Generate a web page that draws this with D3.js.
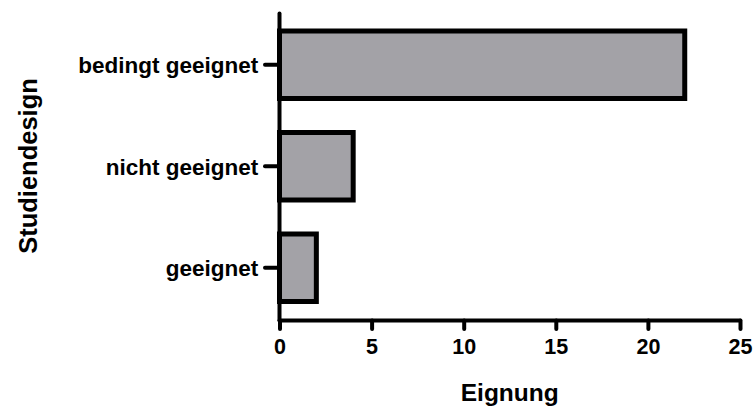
<!DOCTYPE html>
<html>
<head>
<meta charset="utf-8">
<script src="https://cdn.jsdelivr.net/npm/d3@7"></script>
<style>
  html, body { margin: 0; padding: 0; background: #fff; }
  svg { display: block; font-family: "Liberation Sans", Arial, Helvetica, sans-serif; font-weight: bold; }
</style>
</head>
<body>
<svg id="chart" width="755" height="408"></svg>
<script>
// Study designs and how many studies fall into each suitability class
const categories = ["bedingt geeignet", "nicht geeignet", "geeignet"];
const counts = [22, 4, 2];
const xTicks = [0, 5, 10, 15, 20, 25];
const xTitle = "Eignung";
const yTitle = "Studiendesign";

const FONT = "'Liberation Sans', Arial, Helvetica, sans-serif";
const svg = d3.select("#chart");

const x = d3.scaleLinear().domain([0, 25]).range([279.5, 740]);
const y = d3.scaleBand()
  .domain(categories)
  .range([14, 318.5])
  .paddingInner(0.335)
  .paddingOuter(0.1675);

const axisY = 320.5;   // position of the value axis line
const axisX = x(0);    // position of the category axis line

// Bars
svg.append("g")
  .selectAll("rect")
  .data(categories.map((c, i) => ({ c, v: counts[i] })))
  .join("rect")
  .attr("x", x(0))
  .attr("y", d => y(d.c))
  .attr("width", d => x(d.v) - x(0))
  .attr("height", y.bandwidth())
  .attr("fill", "#a3a2a7")
  .attr("stroke", "#000")
  .attr("stroke-width", 5);

// Value axis (bottom)
const xAxis = d3.axisBottom(x).tickValues(xTicks).tickSize(8.5).tickPadding(10).tickFormat(d3.format("d"));
const gx = svg.append("g").attr("transform", `translate(0,${axisY})`).call(xAxis);
gx.select(".domain").remove();
gx.append("line")
  .attr("x1", x(0)).attr("x2", x(25))
  .attr("stroke", "#000").attr("stroke-width", 4).attr("stroke-linecap", "round");
gx.selectAll(".tick line").attr("stroke", "#000").attr("stroke-width", 4).attr("stroke-linecap", "round");
gx.selectAll(".tick text")
  .attr("fill", "#000")
  .style("font-size", "21.5px")
  .style("font-weight", "bold")
  .style("font-family", FONT);

// Category axis (left)
const yAxis = d3.axisLeft(y).tickSize(14.5).tickPadding(6.7);
const gy = svg.append("g").attr("transform", `translate(${axisX},0)`).call(yAxis);
gy.select(".domain").remove();
gy.append("line")
  .attr("y1", 13.5).attr("y2", axisY)
  .attr("stroke", "#000").attr("stroke-width", 4).attr("stroke-linecap", "round");
gy.selectAll(".tick line").attr("stroke", "#000").attr("stroke-width", 4).attr("stroke-linecap", "round");
gy.selectAll(".tick text")
  .attr("fill", "#000")
  .attr("dy", "0.37em")
  .style("font-size", "22.5px")
  .style("font-weight", "bold")
  .style("font-family", FONT);

// Axis titles
svg.append("text")
  .attr("x", (x(0) + x(25)) / 2)
  .attr("y", 400.5)
  .attr("text-anchor", "middle")
  .style("font-size", "24.5px")
  .text(xTitle);

svg.append("text")
  .attr("transform", "translate(36.5,166) rotate(-90)")
  .attr("text-anchor", "middle")
  .style("font-size", "25.5px")
  .text(yTitle);
</script>
</body>
</html>
